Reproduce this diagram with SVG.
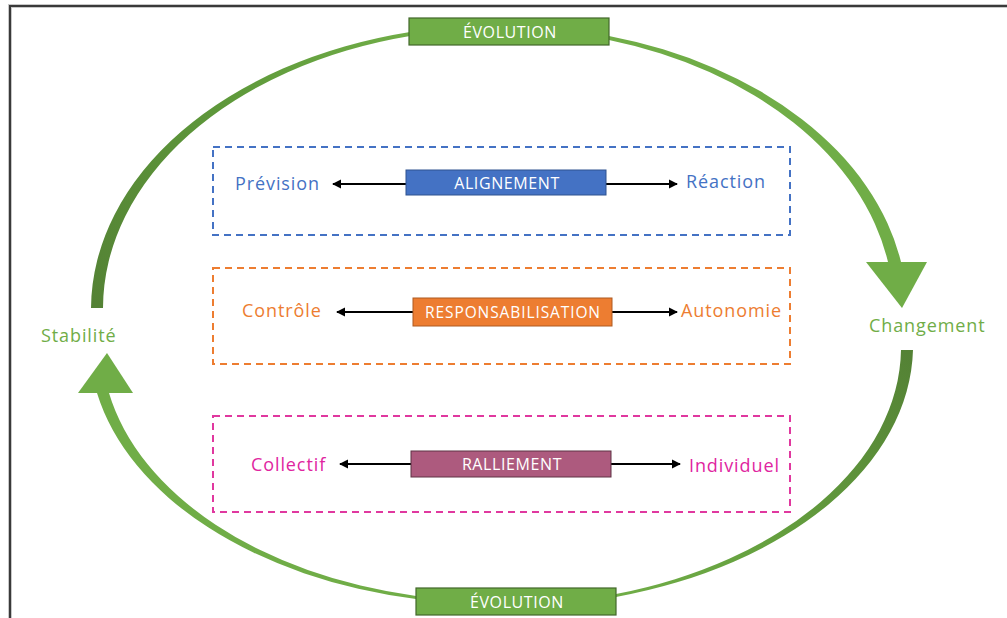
<svg xmlns="http://www.w3.org/2000/svg" width="1007" height="618" viewBox="0 0 1007 618">
<style>
.lbl{font-family:"Open Sans","Liberation Sans",sans-serif;font-size:18px;letter-spacing:0.9px}
.box{font-family:"Open Sans","Liberation Sans",sans-serif;font-size:16px;fill:#ffffff;text-anchor:middle;letter-spacing:0.6px}
.dash{fill:none;stroke-width:2;stroke-dasharray:7 5}
.conn{stroke:#000;stroke-width:2.2;fill:none}
</style>
<defs>
<marker id="ah" viewBox="0 0 10 10" refX="9" refY="5" markerWidth="4.2" markerHeight="4.2" orient="auto-start-reverse" markerUnits="strokeWidth">
<path d="M0,0 L10,5 L0,10 Z" fill="#000"/>
</marker>
<linearGradient id="g1" gradientUnits="userSpaceOnUse" x1="410" y1="36" x2="97" y2="308">
<stop offset="0" stop-color="#70ad47"/><stop offset="0.4" stop-color="#5f9a3b"/><stop offset="1" stop-color="#548235"/>
</linearGradient>
<linearGradient id="g3" gradientUnits="userSpaceOnUse" x1="907" y1="350" x2="616" y2="596">
<stop offset="0" stop-color="#548235"/><stop offset="0.6" stop-color="#65a03f"/><stop offset="1" stop-color="#70ad47"/>
</linearGradient>
</defs>
<rect width="1007" height="618" fill="#ffffff"/>
<path d="M10,618 L10,6 L1007,6" fill="none" stroke="#c8c8c8" stroke-width="4"/>
<path d="M10,618 L10,6 L1007,6" fill="none" stroke="#3a3a3a" stroke-width="2"/>

<g id="cycle">
<path d="M91,308 A411 285 0 0 1 410,32 L410,36 A399 280 0 0 0 103,308 Z" fill="url(#g1)"/>
<path d="M609,36 A405 284 0 0 1 901,262 L888,262 A394 280 0 0 0 609,40 Z" fill="#70ad47"/>
<path d="M866,262 L927,262 L902,308 Z" fill="#70ad47"/>
<path d="M913,350 A411 262 0 0 1 616,597 L616,594 A401 258 0 0 0 901,350 Z" fill="url(#g3)"/>
<path d="M416,599 A405 262 0 0 1 97,393 L109,393 A395 258 0 0 0 416,596 Z" fill="#70ad47"/>
<path d="M78,393 L133,393 L107,353 Z" fill="#70ad47"/>
</g>

<g id="evolution-top">
<rect x="409" y="18" width="200" height="27" fill="#70ad47" stroke="#41682a" stroke-width="1.2"/>
<text class="box" x="510" y="38" fill="#eef5e8">ÉVOLUTION</text>
</g>
<g id="evolution-bottom">
<rect x="416" y="588" width="200" height="27" fill="#70ad47" stroke="#41682a" stroke-width="1.2"/>
<text class="box" x="517" y="608" fill="#eef5e8">ÉVOLUTION</text>
</g>
<g id="stabilite"><text class="lbl" x="41" y="342" fill="#70ad47">Stabilité</text></g>
<g id="changement"><text class="lbl" x="869" y="332" fill="#70ad47">Changement</text></g>

<g id="frame-alignement"><rect class="dash" x="213" y="147" width="577" height="88" stroke="#4472c4"/></g>
<g id="frame-responsabilisation"><rect class="dash" x="213" y="268" width="577" height="96" stroke="#ed7d31"/></g>
<g id="frame-ralliement"><rect class="dash" x="213" y="416" width="577" height="96" stroke="#e0389f"/></g>

<g id="connectors">
<line class="conn" x1="406" y1="184" x2="333" y2="184" marker-end="url(#ah)"/>
<line class="conn" x1="606" y1="184" x2="677" y2="184" marker-end="url(#ah)"/>
<line class="conn" x1="413" y1="312" x2="337" y2="312" marker-end="url(#ah)"/>
<line class="conn" x1="612" y1="312" x2="677" y2="312" marker-end="url(#ah)"/>
<line class="conn" x1="411" y1="464" x2="340" y2="464" marker-end="url(#ah)"/>
<line class="conn" x1="611" y1="464" x2="680" y2="464" marker-end="url(#ah)"/>
</g>

<g id="alignement">
<rect x="406" y="170" width="200" height="25" fill="#4472c4" stroke="#2f528f" stroke-width="1"/>
<text class="box" x="507" y="189">ALIGNEMENT</text>
</g>
<g id="prevision"><text class="lbl" x="235" y="190" fill="#4472c4">Prévision</text></g>
<g id="reaction"><text class="lbl" x="686" y="188" fill="#4472c4">Réaction</text></g>

<g id="responsabilisation">
<rect x="413" y="298" width="199" height="28" fill="#ed7d31" stroke="#ae5a21" stroke-width="1"/>
<text class="box" x="513" y="318" style="font-size:15.5px;letter-spacing:0.9px">RESPONSABILISATION</text>
</g>
<g id="controle"><text class="lbl" x="242" y="317" fill="#ed7d31">Contrôle</text></g>
<g id="autonomie"><text class="lbl" x="681" y="317" fill="#ed7d31">Autonomie</text></g>

<g id="ralliement">
<rect x="411" y="451" width="200" height="26" fill="#ad5a7e" stroke="#5e3345" stroke-width="1"/>
<text class="box" x="512" y="470">RALLIEMENT</text>
</g>
<g id="collectif"><text class="lbl" x="251" y="471" fill="#e0259f">Collectif</text></g>
<g id="individuel"><text class="lbl" x="689" y="472" fill="#e0259f">Individuel</text></g>
</svg>
